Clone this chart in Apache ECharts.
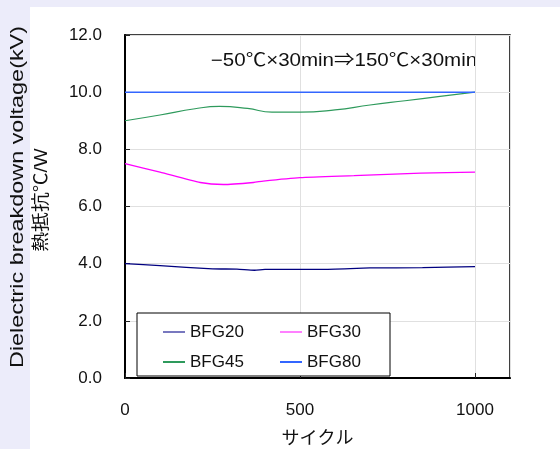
<!DOCTYPE html>
<html><head><meta charset="utf-8">
<script src="https://cdn.jsdelivr.net/npm/echarts@6/dist/echarts.min.js"></script>
<style>html,body{margin:0;padding:0;background:#ececfa}#c{width:560px;height:449px}</style>
</head><body><div id="c"></div>
<script>
const cycles20 = [0, 100, 250, 320, 370, 400, 560, 700, 850, 1000];
const bfg20 = [4.0, 3.93, 3.82, 3.81, 3.77, 3.80, 3.80, 3.85, 3.86, 3.9];
const cycles30 = [0, 100, 215, 281, 367, 395, 500, 654, 845, 1000];
const bfg30 = [7.5, 7.2, 6.84, 6.77, 6.84, 6.89, 7.01, 7.08, 7.17, 7.2];
const cycles45 = [0, 100, 200, 270, 350, 420, 500, 600, 700, 800, 900, 1000];
const bfg45 = [9.0, 9.2, 9.42, 9.5, 9.43, 9.3, 9.3, 9.38, 9.55, 9.7, 9.85, 10.0];
const cycles80 = [0, 500, 1000];
const bfg80 = [10.0, 10.0, 10.0];
const yTicks = ['0.0','2.0','4.0','6.0','8.0','10.0','12.0'];
const xTicks = ['0','500','1000'];
const names = ['BFG20','BFG30','BFG45','BFG80'];
const colors = ['#000080','#ff00ff','#2e9a5c','#3366ff'];

const pair = (xs, ys) => xs.map((x, i) => [x, ys[i]]);
const font = '"Liberation Sans", Arial, "Noto Sans CJK JP", sans-serif';
const chart = echarts.init(document.getElementById('c'));
chart.setOption({
  animation: false,
  backgroundColor: '#ececfa',
  textStyle: { fontFamily: font, color: '#111' },
  graphic: [
    { type: 'rect', z: -10, shape: { x: 30, y: 7, width: 540, height: 450 }, style: { fill: '#fff' } },
    { type: 'text', x: 18, y: 197, rotation: Math.PI / 2, scaleX: 1.3,
      style: { text: 'Dielectric breakdown voltage(kV)', font: '18px ' + font, fill: '#111', align: 'center', verticalAlign: 'middle' } },
    { type: 'text', x: 42, y: 200, rotation: Math.PI / 2, scaleX: 1.1,
      style: { text: '熱抵抗℃/W', font: '18px ' + font, fill: '#111', align: 'center', verticalAlign: 'middle' } },
    { type: 'text', x: 344, y: 61, scaleX: 1.14,
      style: { text: '−50℃×30min⇒150℃×30min', font: '18px ' + font, fill: '#111', align: 'center', verticalAlign: 'middle' } }
  ],
  grid: { left: 125, top: 35, width: 385, height: 343, show: true, borderColor: '#000', borderWidth: 1.5, backgroundColor: 'transparent', outerBoundsMode: 'none', containLabel: false },
  legend: {
    left: 137, top: 313, width: 245, orient: 'horizontal',
    padding: [9, 3, 4, 26], itemGap: 10, itemWidth: 22, itemHeight: 2,
    backgroundColor: '#fff', borderColor: '#000', borderWidth: 1,
    icon: 'rect',
    textStyle: { fontSize: 17, width: 80, lineHeight: 20, color: '#111', fontFamily: font },
    data: names
  },
  xAxis: {
    type: 'value', min: 0, max: 1100, interval: 500,
    axisLine: { show: true, lineStyle: { color: '#000', width: 2 } },
    axisTick: { show: true, inside: true, length: 5, lineStyle: { color: '#222' } },
    axisLabel: { margin: 24, fontSize: 17, color: '#111', showMaxLabel: false, formatter: v => xTicks[Math.round(v / 500)] || '' },
    splitLine: { show: true, lineStyle: { color: '#e0e0e0' } },
    name: 'サイクル', nameLocation: 'middle', nameGap: 52,
    nameTextStyle: { fontSize: 18, color: '#111' }
  },
  yAxis: {
    type: 'value', min: 0, max: 12, interval: 2,
    axisLine: { show: true, lineStyle: { color: '#000', width: 2 } },
    axisTick: { show: true, inside: true, length: 5, lineStyle: { color: '#222' } },
    axisLabel: { margin: 23, fontSize: 17, color: '#111', padding: [6, 0, 0, 0], formatter: v => yTicks[Math.round(v / 2)] },
    splitLine: { show: true, lineStyle: { color: '#e0e0e0' } }
  },
  series: [
    { name: names[0], type: 'line', data: pair(cycles20, bfg20), showSymbol: false, smooth: 0.2, lineStyle: { color: colors[0], width: 1.3 }, itemStyle: { color: '#7878bf' } },
    { name: names[1], type: 'line', data: pair(cycles30, bfg30), showSymbol: false, smooth: 0.2, lineStyle: { color: colors[1], width: 1.3 }, itemStyle: { color: '#ff80ff' } },
    { name: names[2], type: 'line', data: pair(cycles45, bfg45), showSymbol: false, smooth: 0.5, lineStyle: { color: colors[2], width: 1.2 }, itemStyle: { color: colors[2] } },
    { name: names[3], type: 'line', data: pair(cycles80, bfg80), showSymbol: false, lineStyle: { color: colors[3], width: 1.5 }, itemStyle: { color: colors[3] } }
  ]
});
</script></body></html>
